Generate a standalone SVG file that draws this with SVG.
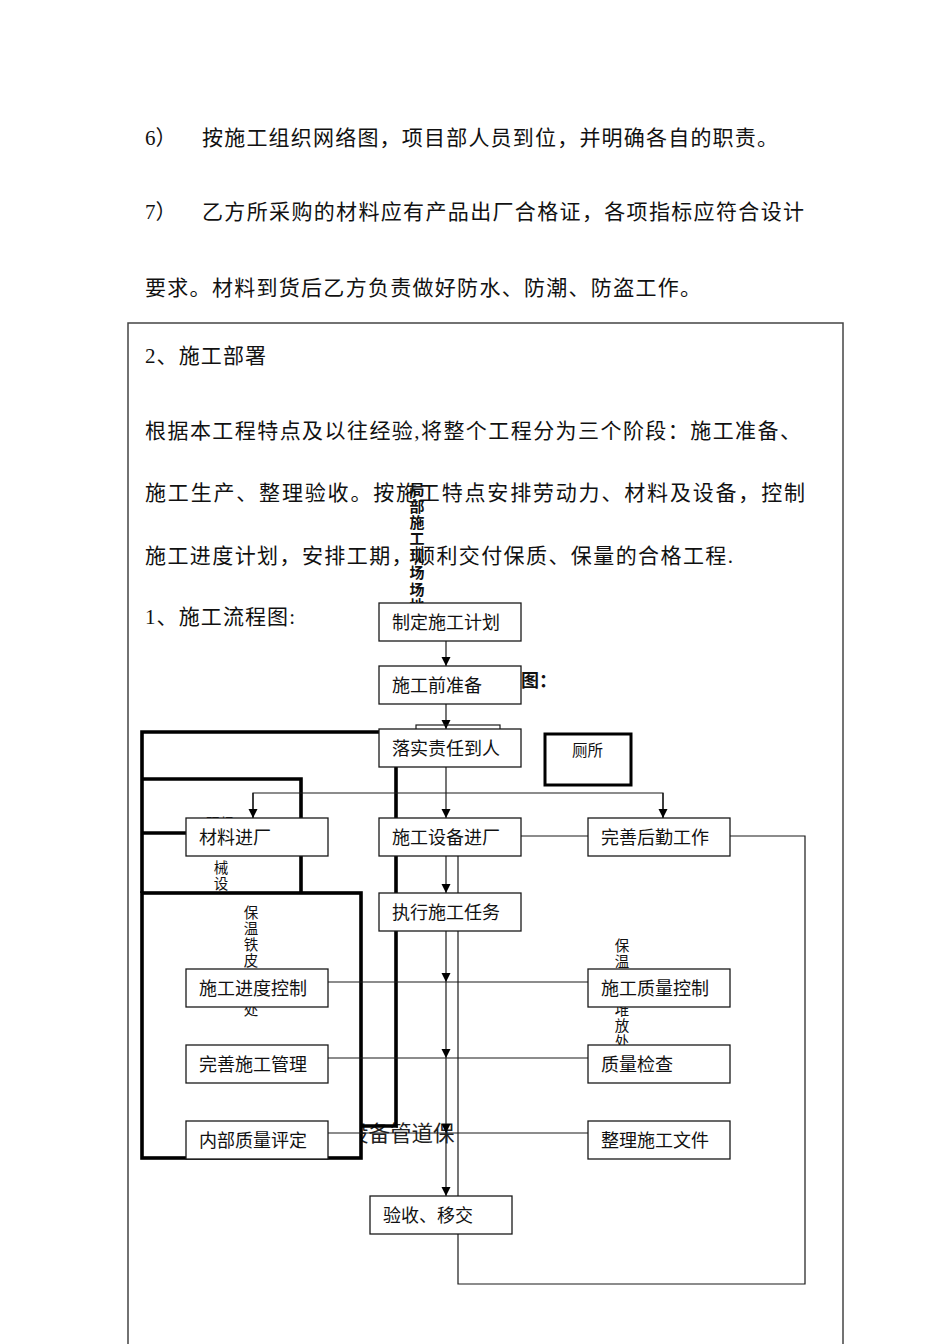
<svg xmlns="http://www.w3.org/2000/svg" width="950" height="1344" viewBox="0 0 950 1344">
<style>
text{font-family:'Liberation Serif','Noto Sans CJK SC',serif;fill:#111}
.body{font-size:21px}
.lbl{font-size:18px}
.v{font-size:14.5px;fill:#222}
.box{fill:#fff;stroke:#1a1a1a;stroke-width:1.3}
.ln{fill:none;stroke:#1a1a1a;stroke-width:1.2}
.thick{fill:none;stroke:#000;stroke-width:3.6}
</style>
<defs>
<marker id="arr" markerWidth="10" markerHeight="10" refX="9" refY="5" orient="auto" markerUnits="userSpaceOnUse"><path d="M0,0.5 L9,5 L0,9.5 z" fill="#000"/></marker>
</defs>
<rect width="950" height="1344" fill="#fff"/>
<g id="bodytext" class="body">
<text x="145" y="145">6）</text>
<text x="202" y="145" textLength="576" lengthAdjust="spacing">按施工组织网络图，项目部人员到位，并明确各自的职责。</text>
<text x="145" y="219">7）</text>
<text x="202" y="219" textLength="602" lengthAdjust="spacing">乙方所采购的材料应有产品出厂合格证，各项指标应符合设计</text>
<text x="145" y="295" textLength="556" lengthAdjust="spacing">要求。材料到货后乙方负责做好防水、防潮、防盗工作。</text>
</g>
<rect id="frame" x="128" y="323" width="715" height="1040" fill="none" stroke="#444" stroke-width="1.5"/>
<g id="sectiontext" class="body">
<text x="145" y="363" textLength="121" lengthAdjust="spacing">2、施工部署</text>
<text x="145" y="438" textLength="656" lengthAdjust="spacing">根据本工程特点及以往经验,将整个工程分为三个阶段：施工准备、</text>
<text x="145" y="500" textLength="660" lengthAdjust="spacing">施工生产、整理验收。按施工特点安排劳动力、材料及设备，控制</text>
<text x="145" y="563" textLength="588" lengthAdjust="spacing">施工进度计划，安排工期，顺利交付保质、保量的合格工程.</text>
<text x="145" y="624" textLength="150" lengthAdjust="spacing">1、施工流程图:</text>
</g>
<g id="vlabel-site" style="font-size:15px;font-weight:bold" text-anchor="middle">
<text x="417" y="495">局</text>
<text x="417" y="512">部</text>
<text x="417" y="528">施</text>
<text x="417" y="544">工</text>
<text x="417" y="561">现</text>
<text x="417" y="578">场</text>
<text x="417" y="595">场</text>
<text x="417" y="611">地</text>
</g>
<text x="521" y="687" style="font-size:18px;font-weight:bold">图：</text>
<text x="347" y="1141" style="font-size:21.5px;fill:#222">设备管道保</text>
<g id="thickframes">
<rect x="142" y="893" width="219" height="265" fill="#fff" stroke="#000" stroke-width="3.6"/>
<path class="thick" d="M396,732 H142 V893"/>
<path class="thick" d="M142,779 H301 V893"/>
<path class="thick" d="M142,833 H301"/>
<path class="thick" d="M396,732 V1126 H361"/>
</g>
<g id="vlabels" class="v" text-anchor="middle">
<text x="206" y="829" text-anchor="start">现场</text>
<text x="221" y="873">械</text>
<text x="221" y="889">设</text>
<text x="251" y="918">保</text>
<text x="251" y="934">温</text>
<text x="251" y="950">铁</text>
<text x="251" y="966">皮</text>
<text x="251" y="1015">处</text>
<text x="622" y="951">保</text>
<text x="622" y="967">温</text>
<text x="622" y="1015">堆</text>
<text x="622" y="1031">放</text>
<text x="622" y="1047">处</text>
</g>
<g id="connectors">
<path class="ln" d="M446,641 V666" marker-end="url(#arr)"/>
<path class="ln" d="M446,704 V729" marker-end="url(#arr)"/>
<path class="ln" d="M446,767 V818" marker-end="url(#arr)"/>
<path class="ln" d="M253,818 V793 H663 V818" />
<path class="ln" d="M253,793 V818" marker-end="url(#arr)"/>
<path class="ln" d="M663,793 V818" marker-end="url(#arr)"/>
<path class="ln" d="M521,836 H588"/>
<path class="ln" d="M730,836 H805 V1284 H458 V1234"/>
<path class="ln" d="M446,856 V893" marker-end="url(#arr)"/>
<path class="ln" d="M458,856 V1196"/>
<path class="ln" d="M446,931 V982" marker-end="url(#arr)"/>
<path class="ln" d="M446,982 V1058" marker-end="url(#arr)"/>
<path class="ln" d="M446,1058 V1133" marker-end="url(#arr)"/>
<path class="ln" d="M446,1133 V1196" marker-end="url(#arr)"/>
<path class="ln" d="M328,982 H588"/>
<path class="ln" d="M328,1058 H588"/>
<path class="ln" d="M328,1133 H588"/>
</g>
<rect x="416" y="725" width="84" height="10" fill="none" stroke="#1a1a1a" stroke-width="1.2"/>
<g id="n1"><rect class="box" x="379" y="603" width="142" height="38"/><text class="lbl" x="392" y="629">制定施工计划</text></g>
<g id="n2"><rect class="box" x="379" y="666" width="142" height="38"/><text class="lbl" x="392" y="692">施工前准备</text></g>
<g id="n3"><rect class="box" x="379" y="729" width="142" height="38"/><text class="lbl" x="392" y="755">落实责任到人</text></g>
<g id="toilet"><rect x="545" y="734" width="86" height="51" fill="#fff" stroke="#000" stroke-width="3"/><text x="572" y="756" style="font-size:15.5px">厕所</text></g>
<g id="n4"><rect class="box" x="186" y="818" width="142" height="38"/><text class="lbl" x="199" y="844">材料进厂</text></g>
<g id="n5"><rect class="box" x="379" y="818" width="142" height="38"/><text class="lbl" x="392" y="844">施工设备进厂</text></g>
<g id="n6"><rect class="box" x="588" y="818" width="142" height="38"/><text class="lbl" x="601" y="844">完善后勤工作</text></g>
<g id="n7"><rect class="box" x="379" y="893" width="142" height="38"/><text class="lbl" x="392" y="919">执行施工任务</text></g>
<g id="n8"><rect class="box" x="186" y="969" width="142" height="38"/><text class="lbl" x="199" y="995">施工进度控制</text></g>
<g id="n9"><rect class="box" x="588" y="969" width="142" height="38"/><text class="lbl" x="601" y="995">施工质量控制</text></g>
<g id="n10"><rect class="box" x="186" y="1045" width="142" height="38"/><text class="lbl" x="199" y="1071">完善施工管理</text></g>
<g id="n11"><rect class="box" x="588" y="1045" width="142" height="38"/><text class="lbl" x="601" y="1071">质量检查</text></g>
<g id="n12"><rect class="box" x="186" y="1121" width="142" height="38"/><text class="lbl" x="199" y="1147">内部质量评定</text></g>
<g id="n13"><rect class="box" x="588" y="1121" width="142" height="38"/><text class="lbl" x="601" y="1147">整理施工文件</text></g>
<g id="n14"><rect class="box" x="370" y="1196" width="142" height="38"/><text class="lbl" x="383" y="1222">验收、移交</text></g>
</svg>
